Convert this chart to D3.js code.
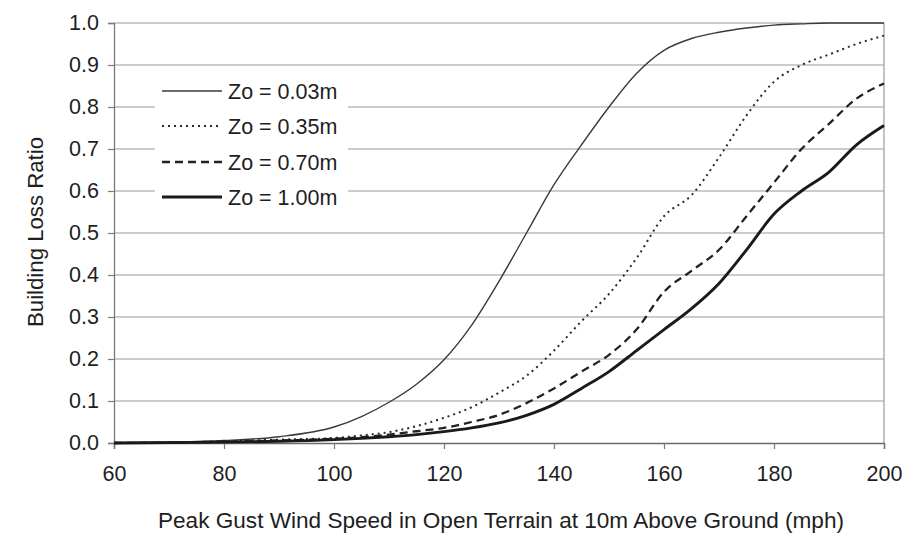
<!DOCTYPE html>
<html>
<head>
<meta charset="utf-8">
<script src="https://cdn.jsdelivr.net/npm/d3@7/dist/d3.min.js"></script>
<style>
  html, body { margin: 0; padding: 0; background: #ffffff; }
  svg { display: block; font-family: "Liberation Sans", Arial, Helvetica, sans-serif; }
</style>
</head>
<body>
<svg id="chart" width="910" height="541"></svg>
<script>
// Wind speed (mph) at which each loss ratio was evaluated
const windSpeed = [60, 70, 80, 90, 100, 105, 110, 115, 120, 125, 130, 135, 140,
                   145, 150, 155, 160, 165, 170, 175, 180, 185, 190, 195, 200];

// Building loss ratio for each surface roughness length
const lossZo003 = [0, 0.002, 0.006, 0.015, 0.038, 0.063, 0.097, 0.14, 0.198, 0.28, 0.385, 0.5, 0.615,
                   0.71, 0.8, 0.88, 0.935, 0.963, 0.978, 0.988, 0.995, 0.998, 1.0, 1.0, 1.0];
const lossZo035 = [0, 0.001, 0.004, 0.008, 0.012, 0.018, 0.026, 0.04, 0.06, 0.085, 0.12, 0.16, 0.22,
                   0.29, 0.355, 0.44, 0.54, 0.59, 0.68, 0.78, 0.86, 0.9, 0.925, 0.95, 0.97];
const lossZo070 = [0, 0.001, 0.003, 0.006, 0.01, 0.014, 0.02, 0.028, 0.036, 0.05, 0.067, 0.095, 0.13,
                   0.17, 0.21, 0.27, 0.36, 0.41, 0.46, 0.54, 0.62, 0.7, 0.76, 0.82, 0.856];
const lossZo100 = [0, 0.001, 0.002, 0.004, 0.008, 0.011, 0.015, 0.02, 0.027, 0.036, 0.048, 0.066, 0.092,
                   0.13, 0.17, 0.22, 0.27, 0.32, 0.38, 0.46, 0.545, 0.6, 0.645, 0.71, 0.756];

const seriesNames = ["Zo = 0.03m", "Zo = 0.35m", "Zo = 0.70m", "Zo = 1.00m"];
const xTicks = [60, 80, 100, 120, 140, 160, 180, 200];
const yTicks = [0, 0.1, 0.2, 0.3, 0.4, 0.5, 0.6, 0.7, 0.8, 0.9, 1.0];
const xTitle = "Peak Gust Wind Speed in Open Terrain at 10m Above Ground (mph)";
const yTitle = "Building Loss Ratio";

const series = [lossZo003, lossZo035, lossZo070, lossZo100].map((vals, i) => ({
  name: seriesNames[i],
  points: windSpeed.map((w, j) => [w, vals[j]])
}));

// line styles per series: thin solid, dotted, dashed, heavy solid
const styles = [
  { stroke: "#3a3a3a", width: 1.4, dash: null },
  { stroke: "#2a2a2a", width: 2.0, dash: "2,4" },
  { stroke: "#222222", width: 2.3, dash: "8,5" },
  { stroke: "#1a1a1a", width: 2.9, dash: null }
];

const svg = d3.select("#chart");
const plotLeft = 114, plotRight = 884, plotTop = 23, plotBottom = 443;

const x = d3.scaleLinear().domain([60, 200]).range([plotLeft, plotRight]);
const y = d3.scaleLinear().domain([0, 1]).range([plotBottom, plotTop]);

const fontSize = 21.5;
const textColor = "#1e1e1e";
const gridColor = "#9a9a9a";

// horizontal gridlines
svg.append("g")
  .selectAll("line")
  .data(yTicks.filter(t => t > 0))
  .join("line")
  .attr("x1", plotLeft).attr("x2", plotRight)
  .attr("y1", d => y(d)).attr("y2", d => y(d))
  .attr("stroke", gridColor).attr("stroke-width", 1.2);

// right border
svg.append("line")
  .attr("x1", plotRight).attr("x2", plotRight)
  .attr("y1", plotTop).attr("y2", plotBottom)
  .attr("stroke", gridColor).attr("stroke-width", 1.2);

// y axis
const yAxis = svg.append("g")
  .attr("transform", `translate(${plotLeft},0)`)
  .call(d3.axisLeft(y).tickValues(yTicks).tickFormat(d3.format(".1f")).tickSize(6).tickPadding(9));
yAxis.select(".domain").attr("stroke", "#7a7a7a").attr("stroke-width", 1.3);
yAxis.selectAll(".tick line").attr("stroke", "#7a7a7a").attr("stroke-width", 1.2);
yAxis.selectAll(".tick text")
  .attr("font-size", fontSize).attr("fill", textColor)
  .attr("font-family", "Liberation Sans, Arial, sans-serif");

// x axis
const xAxis = svg.append("g")
  .attr("transform", `translate(0,${plotBottom})`)
  .call(d3.axisBottom(x).tickValues(xTicks).tickFormat(d3.format("d")).tickSize(6).tickPadding(17));
xAxis.select(".domain").attr("stroke", "#6a6a6a").attr("stroke-width", 1.5);
xAxis.selectAll(".tick line").attr("stroke", "#7a7a7a").attr("stroke-width", 1.2);
xAxis.selectAll(".tick text")
  .attr("font-size", fontSize).attr("fill", textColor)
  .attr("font-family", "Liberation Sans, Arial, sans-serif");

// axis titles
svg.append("text")
  .attr("x", 501).attr("y", 528)
  .attr("text-anchor", "middle")
  .attr("font-size", 22).attr("fill", textColor)
  .attr("textLength", 686).attr("lengthAdjust", "spacingAndGlyphs")
  .text(xTitle);

svg.append("text")
  .attr("transform", `translate(43,232) rotate(-90)`)
  .attr("text-anchor", "middle")
  .attr("font-size", 22).attr("fill", textColor)
  .attr("textLength", 190).attr("lengthAdjust", "spacingAndGlyphs")
  .text(yTitle);

// curves
const line = d3.line()
  .x(d => x(d[0]))
  .y(d => y(d[1]))
  .curve(d3.curveMonotoneX);

svg.append("g")
  .selectAll("path")
  .data(series)
  .join("path")
  .attr("d", d => line(d.points))
  .attr("fill", "none")
  .attr("stroke", (d, i) => styles[i].stroke)
  .attr("stroke-width", (d, i) => styles[i].width)
  .attr("stroke-dasharray", (d, i) => styles[i].dash)
  .attr("stroke-linejoin", "round");

// legend
const legend = svg.append("g");
legend.append("rect")
  .attr("x", 155).attr("y", 72).attr("width", 193).attr("height", 142)
  .attr("fill", "#ffffff");
const rowY = [91, 126, 162, 197];
const rows = legend.selectAll("g.row")
  .data(series)
  .join("g")
  .attr("class", "row")
  .attr("transform", (d, i) => `translate(0,${rowY[i]})`);
rows.append("line")
  .attr("x1", 162).attr("x2", 222).attr("y1", 0).attr("y2", 0)
  .attr("stroke", (d, i) => styles[i].stroke)
  .attr("stroke-width", (d, i) => styles[i].width)
  .attr("stroke-dasharray", (d, i) => styles[i].dash);
rows.append("text")
  .attr("x", 228).attr("y", 0).attr("dy", "0.36em")
  .attr("font-size", fontSize).attr("fill", textColor)
  .text(d => d.name);
</script>
</body>
</html>
